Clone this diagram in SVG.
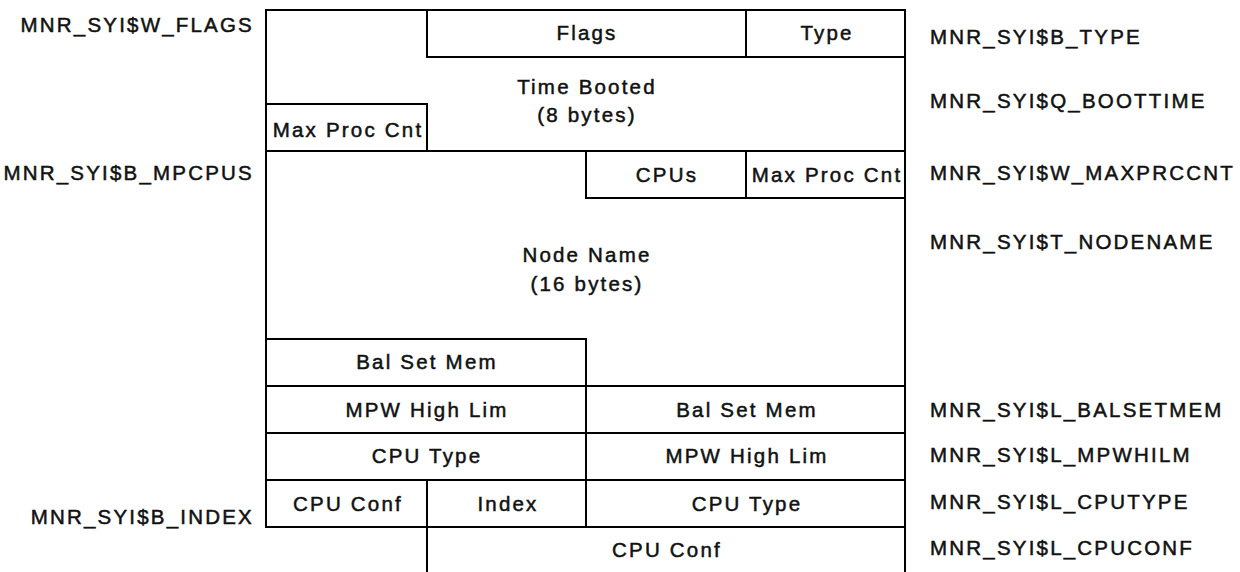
<svg xmlns="http://www.w3.org/2000/svg" width="1240" height="572" viewBox="0 0 1240 572">
<style>
.c{fill:#fff;stroke:#000;stroke-width:2;stroke-linejoin:miter}
.o{fill:none;stroke:#000;stroke-width:2}
text{font-family:"Liberation Sans",Arial,sans-serif;font-size:20.5px;letter-spacing:2.2px;fill:#111;stroke:#111;stroke-width:0.5}
.m{text-anchor:middle}
.e{text-anchor:end}
</style>
<rect width="1240" height="572" fill="#fff"/>
<g id="connectors"></g>
<g id="time-booted"><path class="c" d="M266,10 H427 V57 H905 V151 H427 V104 H266 Z"/><text class="m" x="587" y="94">Time Booted</text><text class="m" x="587" y="122">(8 bytes)</text></g>
<g id="flags"><rect class="c" x="427" y="10" width="319" height="47"/><text class="m" x="587" y="40">Flags</text></g>
<g id="type"><rect class="c" x="746" y="10" width="159" height="47"/><text class="m" x="827" y="40">Type</text></g>
<g id="max-proc-cnt-1"><rect class="c" x="266" y="104" width="161" height="47"/><text class="m" x="348" y="137">Max Proc Cnt</text></g>
<g id="node-name"><path class="c" d="M266,151 H586 V198 H905 V386 H586 V339 H266 Z"/><text class="m" x="587" y="262">Node Name</text><text class="m" x="587" y="291">(16 bytes)</text></g>
<g id="cpus"><rect class="c" x="586" y="151" width="160" height="47"/><text class="m" x="667" y="182">CPUs</text></g>
<g id="max-proc-cnt-2"><rect class="c" x="746" y="151" width="159" height="47"/><text class="m" x="827" y="182">Max Proc Cnt</text></g>
<g id="bal-set-mem-1"><rect class="c" x="266" y="339" width="320" height="47"/><text class="m" x="427" y="369">Bal Set Mem</text></g>
<g id="mpw-high-lim-1"><rect class="c" x="266" y="386" width="320" height="47"/><text class="m" x="427" y="417">MPW High Lim</text></g>
<g id="bal-set-mem-2"><rect class="c" x="586" y="386" width="319" height="47"/><text class="m" x="747" y="417">Bal Set Mem</text></g>
<g id="cpu-type-1"><rect class="c" x="266" y="433" width="320" height="47"/><text class="m" x="427" y="463">CPU Type</text></g>
<g id="mpw-high-lim-2"><rect class="c" x="586" y="433" width="319" height="47"/><text class="m" x="747" y="463">MPW High Lim</text></g>
<g id="cpu-conf-1"><rect class="c" x="266" y="480" width="161" height="47"/><text class="m" x="348" y="511">CPU Conf</text></g>
<g id="index"><rect class="c" x="427" y="480" width="159" height="47"/><text class="m" x="508" y="511">Index</text></g>
<g id="cpu-type-2"><rect class="c" x="586" y="480" width="319" height="47"/><text class="m" x="747" y="511">CPU Type</text></g>
<g id="cpu-conf-2"><path class="o" d="M427,573 V527 H905 V573"/><text class="m" x="667" y="557">CPU Conf</text></g>
<g id="labels">
<text class="e" x="254" y="32">MNR_SYI$W_FLAGS</text>
<text class="e" x="254" y="180">MNR_SYI$B_MPCPUS</text>
<text class="e" x="254" y="524">MNR_SYI$B_INDEX</text>
<text x="930" y="44">MNR_SYI$B_TYPE</text>
<text x="930" y="108">MNR_SYI$Q_BOOTTIME</text>
<text x="930" y="180">MNR_SYI$W_MAXPRCCNT</text>
<text x="930" y="249">MNR_SYI$T_NODENAME</text>
<text x="930" y="417">MNR_SYI$L_BALSETMEM</text>
<text x="930" y="462">MNR_SYI$L_MPWHILM</text>
<text x="930" y="509">MNR_SYI$L_CPUTYPE</text>
<text x="930" y="555">MNR_SYI$L_CPUCONF</text>
</g>
</svg>
